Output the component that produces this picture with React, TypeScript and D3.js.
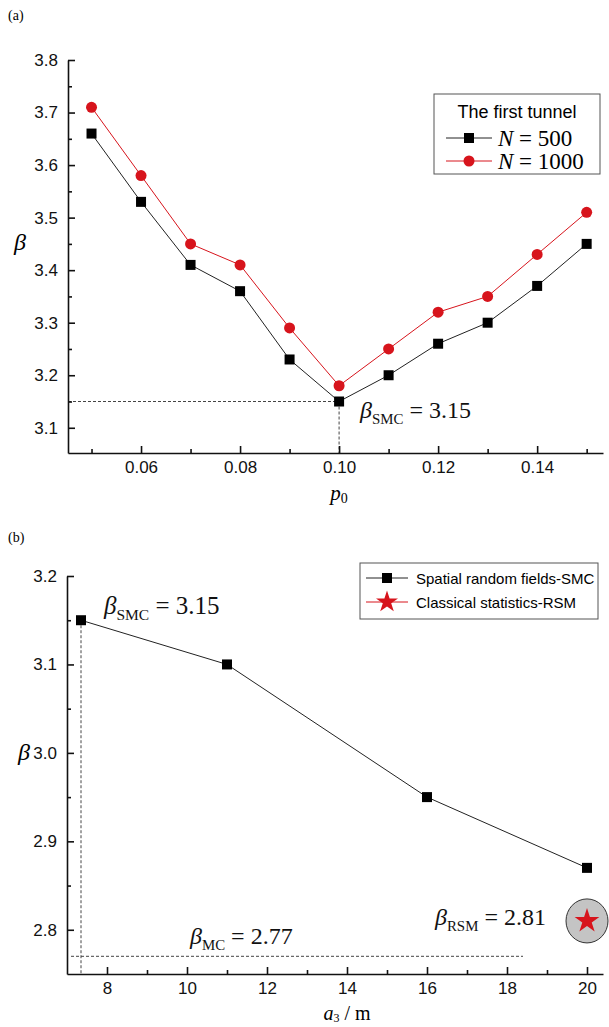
import React, { useEffect, useRef } from 'react';
import * as d3 from 'd3';

// panel (a): reliability index vs p0
const p0Values = [0.05, 0.06, 0.07, 0.08, 0.09, 0.10, 0.11, 0.12, 0.13, 0.14, 0.15];
const beta500 = [3.66, 3.53, 3.41, 3.36, 3.23, 3.15, 3.20, 3.26, 3.30, 3.37, 3.45];
const beta1000 = [3.71, 3.58, 3.45, 3.41, 3.29, 3.18, 3.25, 3.32, 3.35, 3.43, 3.51];
const aTicksX = [0.06, 0.08, 0.10, 0.12, 0.14];
const aMinorX = [0.05, 0.07, 0.09, 0.11, 0.13, 0.15];
const aTicksY = [3.1, 3.2, 3.3, 3.4, 3.5, 3.6, 3.7, 3.8];
const aMinorY = [3.15, 3.25, 3.35, 3.45, 3.55, 3.65, 3.75];

// panel (b): reliability index vs correlation length
const a3Values = [7.35, 11, 16, 20];
const betaSMC = [3.15, 3.10, 2.95, 2.87];
const rsmPoint = { x: 20, y: 2.81 };
const betaMC = 2.77;
const bTicksX = [8, 10, 12, 14, 16, 18, 20];
const bMinorX = [9, 11, 13, 15, 17, 19];
const bTicksY = [2.8, 2.9, 3.0, 3.1, 3.2];
const bMinorY = [2.85, 2.95, 3.05, 3.15];

const SANS = '"Liberation Sans", Arial, sans-serif';
const SERIF = '"Liberation Serif", "Times New Roman", serif';
const RED = '#d7141c';

const App = () => {
    const ref = useRef<SVGSVGElement>(null);

    useEffect(() => {
        document.body.style.margin = '0';
        if (!ref.current) return;
        const svg = d3.select(ref.current);
        svg.selectAll('*').remove();

        const drawAxes = (x: any, y: any, xt: number[], xm: number[], yt: number[], ym: number[], fmtX: any, fmtY: any) => {
            const [y0] = y.range();
            const [x0] = x.range();
            const gx = svg.append('g').attr('transform', `translate(0,${y0})`)
                .call(d3.axisBottom(x).tickValues(xt).tickFormat(fmtX).tickSizeInner(-7).tickSizeOuter(0).tickPadding(8));
            svg.append('g').attr('transform', `translate(0,${y0})`)
                .call(d3.axisBottom(x).tickValues(xm).tickFormat(() => '').tickSizeInner(-4).tickSizeOuter(0))
                .select('.domain').remove();
            const gy = svg.append('g').attr('transform', `translate(${x0},0)`)
                .call(d3.axisLeft(y).tickValues(yt).tickFormat(fmtY).tickSizeInner(-7).tickSizeOuter(0).tickPadding(10));
            svg.append('g').attr('transform', `translate(${x0},0)`)
                .call(d3.axisLeft(y).tickValues(ym).tickFormat(() => '').tickSizeInner(-4).tickSizeOuter(0))
                .select('.domain').remove();
            [gx, gy].forEach(g => {
                g.selectAll('text').attr('font-family', SANS).attr('font-size', 17).attr('fill', '#111');
                g.select('.domain').attr('stroke', '#111').attr('stroke-width', 1.6);
            });
            svg.selectAll('.tick line').attr('stroke', '#111').attr('stroke-width', 1.6);
        };

        const dotted = (x1: number, y1: number, x2: number, y2: number) =>
            svg.append('line').attr('x1', x1).attr('y1', y1).attr('x2', x2).attr('y2', y2)
                .attr('stroke', '#444').attr('stroke-width', 1).attr('stroke-dasharray', '3,2');

        const betaLabel = (px: number, py: number, sub: string, val: string, size = 24) => {
            const t = svg.append('text').attr('x', px).attr('y', py).attr('font-family', SERIF).attr('font-size', size).attr('fill', '#111');
            t.append('tspan').attr('font-style', 'italic').text('β');
            t.append('tspan').attr('font-size', size * 0.62).attr('dy', 6).text(sub);
            t.append('tspan').attr('dy', -6).text(` = ${val}`);
        };

        // ---------- panel (a) ----------
        const xa = d3.scaleLinear().domain([0.04525, 0.1533]).range([68, 603]);
        const ya = d3.scaleLinear().domain([3.052, 3.8]).range([453, 60]);

        svg.append('text').attr('x', 8).attr('y', 20).attr('font-family', SERIF).attr('font-size', 14).text('(a)');

        dotted(xa.range()[0], ya(3.15), xa(0.10), ya(3.15));
        dotted(xa(0.10), ya(3.15), xa(0.10), ya.range()[0]);

        drawAxes(xa, ya, aTicksX, aMinorX, aTicksY, aMinorY, d3.format('.2f'), d3.format('.1f'));

        const lineA = (vals: number[]) => d3.line<number>().x((d, i) => xa(p0Values[i])).y(d => ya(d))(vals);
        svg.append('path').attr('d', lineA(beta1000)).attr('fill', 'none').attr('stroke', RED).attr('stroke-width', 1);
        svg.append('path').attr('d', lineA(beta500)).attr('fill', 'none').attr('stroke', '#222').attr('stroke-width', 1);
        svg.selectAll('.c1000').data(beta1000).enter().append('circle')
            .attr('cx', (d, i) => xa(p0Values[i])).attr('cy', d => ya(d)).attr('r', 5.5).attr('fill', RED);
        svg.selectAll('.s500').data(beta500).enter().append('rect')
            .attr('x', (d, i) => xa(p0Values[i]) - 5).attr('y', d => ya(d) - 5).attr('width', 10).attr('height', 10).attr('fill', '#000');

        betaLabel(360, 418, 'SMC', '3.15');

        svg.append('text').attr('transform', `translate(14,250)`).attr('font-family', SERIF).attr('font-style', 'italic').attr('font-size', 24).text('β');
        const pl = svg.append('text').attr('x', xa(0.10)).attr('y', 500).attr('text-anchor', 'middle').attr('font-family', SERIF).attr('font-size', 21);
        pl.append('tspan').attr('font-style', 'italic').text('p');
        pl.append('tspan').attr('font-size', 14).attr('dy', 3).text('0');

        // legend (a)
        const lg = svg.append('g');
        lg.append('rect').attr('x', 434).attr('y', 94).attr('width', 166).attr('height', 80).attr('fill', '#fff').attr('stroke', '#555');
        lg.append('text').attr('x', 517).attr('y', 118).attr('text-anchor', 'middle').attr('font-family', SANS).attr('font-size', 18).text('The first tunnel');
        [{ label: '500', color: '#222', y: 138 }, { label: '1000', color: RED, y: 161 }].forEach((r, i) => {
            lg.append('line').attr('x1', 446).attr('x2', 492).attr('y1', r.y).attr('y2', r.y).attr('stroke', r.color).attr('stroke-width', 1);
            if (i === 0) lg.append('rect').attr('x', 464).attr('y', r.y - 5).attr('width', 10).attr('height', 10).attr('fill', '#000');
            else lg.append('circle').attr('cx', 469).attr('cy', r.y).attr('r', 5.5).attr('fill', RED);
            const t = lg.append('text').attr('x', 498).attr('y', r.y + 8).attr('font-family', SERIF).attr('font-size', 23);
            t.append('tspan').attr('font-style', 'italic').text('N');
            t.append('tspan').text(` = ${r.label}`);
        });

        // ---------- panel (b) ----------
        const xb = d3.scaleLinear().domain([7, 20.4]).range([67, 603]);
        const yb = d3.scaleLinear().domain([2.75, 3.2]).range([974, 576]);

        svg.append('text').attr('x', 8).attr('y', 542).attr('font-family', SERIF).attr('font-size', 14).text('(b)');

        dotted(xb(a3Values[0]), yb(betaSMC[0]), xb(a3Values[0]), yb.range()[0]);
        dotted(xb(7.1), yb(betaMC), xb(18.4), yb(betaMC));

        drawAxes(xb, yb, bTicksX, bMinorX, bTicksY, bMinorY, d3.format('d'), d3.format('.1f'));

        svg.append('path').attr('d', d3.line<number>().x((d, i) => xb(a3Values[i])).y(d => yb(d))(betaSMC))
            .attr('fill', 'none').attr('stroke', '#222').attr('stroke-width', 1);
        svg.selectAll('.sb').data(betaSMC).enter().append('rect')
            .attr('x', (d, i) => xb(a3Values[i]) - 5).attr('y', d => yb(d) - 5).attr('width', 10).attr('height', 10).attr('fill', '#000');

        svg.append('ellipse').attr('cx', xb(rsmPoint.x)).attr('cy', yb(rsmPoint.y)).attr('rx', 21).attr('ry', 22)
            .attr('fill', '#c4c4c4').attr('stroke', '#333').attr('stroke-width', 1);
        svg.append('path').attr('d', d3.symbol(d3.symbolStar, 190)())
            .attr('transform', `translate(${xb(rsmPoint.x)},${yb(rsmPoint.y)})`).attr('fill', RED);

        betaLabel(104, 614, 'SMC', '3.15', 25);
        betaLabel(190, 944, 'MC', '2.77');
        betaLabel(435, 925, 'RSM', '2.81');

        svg.append('text').attr('transform', `translate(18,760)`).attr('font-family', SERIF).attr('font-style', 'italic').attr('font-size', 24).text('β');
        const al = svg.append('text').attr('x', xb(14)).attr('y', 1020).attr('text-anchor', 'middle').attr('font-family', SERIF).attr('font-size', 20);
        al.append('tspan').attr('font-style', 'italic').text('a');
        al.append('tspan').attr('font-size', 12).attr('dy', 2).text('3');
        al.append('tspan').attr('dy', -2).text(' / m');

        // legend (b)
        const lb = svg.append('g');
        lb.append('rect').attr('x', 360).attr('y', 563).attr('width', 238).attr('height', 56).attr('fill', '#fff').attr('stroke', '#555');
        lb.append('line').attr('x1', 366).attr('x2', 408).attr('y1', 578).attr('y2', 578).attr('stroke', '#222');
        lb.append('rect').attr('x', 382).attr('y', 573).attr('width', 10).attr('height', 10).attr('fill', '#000');
        lb.append('line').attr('x1', 366).attr('x2', 408).attr('y1', 602).attr('y2', 602).attr('stroke', RED);
        lb.append('path').attr('d', d3.symbol(d3.symbolStar, 150)()).attr('transform', 'translate(387,602)').attr('fill', RED);
        lb.append('text').attr('x', 416).attr('y', 584).attr('font-family', SANS).attr('font-size', 15).text('Spatial random fields-SMC');
        lb.append('text').attr('x', 416).attr('y', 608).attr('font-family', SANS).attr('font-size', 15).text('Classical statistics-RSM');
    }, []);

    return <svg ref={ref} width={609} height={1027} style={{ display: 'block', background: '#fff' }} />;
};

export default App;
